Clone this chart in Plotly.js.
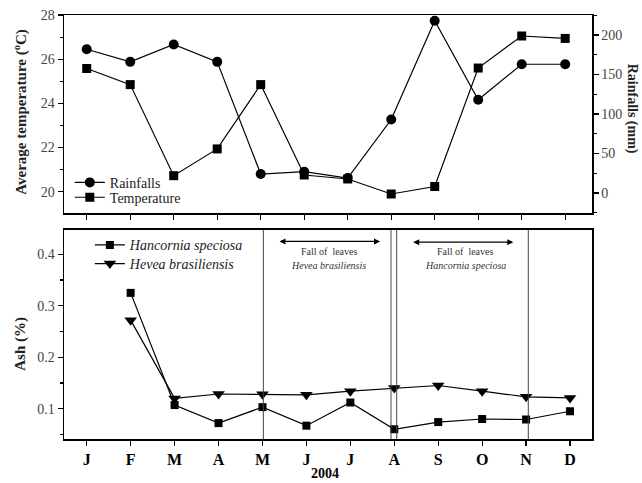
<!DOCTYPE html>
<html>
<head>
<meta charset="utf-8">
<script src="https://cdn.plot.ly/plotly-3.0.1.min.js"></script>
<style>html,body{margin:0;padding:0;background:#fff;}#chart{width:642px;height:483px;}</style>
</head>
<body>
<div id="chart"></div>
<script>
// ---- data ----
const months = [1,2,3,4,5,6,7,8,9,10,11,12];
const monthLabels = ['J','F','M','A','M','J','J','A','S','O','N','D'];
const rainfall = [182, 166, 188, 166, 24, 27, 19, 93, 218, 118, 163, 163];          // mm
const temperature = [25.58, 24.85, 20.73, 21.94, 24.85, 20.76, 20.58, 19.9, 20.24, 25.6, 27.05, 26.94]; // °C
const ashHancornia = [null, 0.325, 0.107, 0.072, 0.103, 0.067, 0.112, 0.060, 0.074, 0.080, 0.079, 0.095];
const ashHevea = [null, 0.272, 0.120, 0.1285, 0.128, 0.127, 0.134, 0.140, 0.145, 0.134, 0.123, 0.121];
const fallLines = [5.02, 7.925, 8.055, 11.05];

const FONT = 'Liberation Serif, Times New Roman, serif';

const traces = [
  {x: months, y: rainfall, name: 'Rainfalls', xaxis: 'x', yaxis: 'y2', legend: 'legend',
   mode: 'lines+markers', line: {color: '#000', width: 1.2},
   marker: {symbol: 'circle', size: 10, color: '#000'}},
  {x: months, y: temperature, name: 'Temperature', xaxis: 'x', yaxis: 'y', legend: 'legend2',
   mode: 'lines+markers', line: {color: '#000', width: 1.2},
   marker: {symbol: 'square', size: 9, color: '#000'}},
  {x: months, y: ashHancornia, name: '<i>Hancornia speciosa</i>', xaxis: 'x2', yaxis: 'y3', legend: 'legend3',
   mode: 'lines+markers', line: {color: '#000', width: 1.2}, connectgaps: false,
   marker: {symbol: 'square', size: 8, color: '#000'}},
  {x: months, y: ashHevea, name: '<i>Hevea brasiliensis</i>', xaxis: 'x2', yaxis: 'y3', legend: 'legend4',
   mode: 'lines+markers', line: {color: '#000', width: 1.2}, connectgaps: false,
   marker: {symbol: 'triangle-down', size: 11, color: '#000'}}
];

const axBase = {showline: true, linecolor: '#000', linewidth: 1.5, mirror: true,
  showgrid: false, zeroline: false, ticks: 'outside', ticklen: 5, tickwidth: 1.2, tickcolor: '#000',
  tickfont: {family: FONT, size: 14, color: '#444'}};

const shapes = fallLines.map(v => ({type: 'line', xref: 'x2', yref: 'y3 domain',
  x0: v, x1: v, y0: 0, y1: 1, line: {color: '#444', width: 1}}));

const annotations = [
  // arrows
  {xref: 'x2', yref: 'y3', axref: 'x2', ayref: 'y3', x: 7.675, y: 0.425, ax: 5.353, ay: 0.425,
   text: '', showarrow: true, arrowhead: 2, arrowside: 'end+start', arrowsize: 1, arrowwidth: 1.2, arrowcolor: '#000'},
  {xref: 'x2', yref: 'y3', axref: 'x2', ayref: 'y3', x: 10.709, y: 0.4235, ax: 8.396, ay: 0.4235,
   text: '', showarrow: true, arrowhead: 2, arrowside: 'end+start', arrowsize: 1, arrowwidth: 1.2, arrowcolor: '#000'},
  {xref: 'x2', yref: 'y3', x: 6.514, y: 0.4045, text: 'Fall of  leaves', showarrow: false,
   font: {family: FONT, size: 10, color: '#333'}},
  {xref: 'x2', yref: 'y3', x: 6.514, y: 0.378, text: '<i>Hevea brasiliensis</i>', showarrow: false,
   font: {family: FONT, size: 10, color: '#333'}},
  {xref: 'x2', yref: 'y3', x: 9.61, y: 0.4045, text: 'Fall of  leaves', showarrow: false,
   font: {family: FONT, size: 10, color: '#333'}},
  {xref: 'x2', yref: 'y3', x: 9.61, y: 0.378, text: '<i>Hancornia speciosa</i>', showarrow: false,
   font: {family: FONT, size: 10, color: '#333'}},
  // axis titles
  {xref: 'paper', yref: 'paper', x: -0.083, y: 0.77, xanchor: 'center', yanchor: 'middle', textangle: -90,
   text: '<b>Average temperature (<sup>o</sup>C)</b>', showarrow: false, font: {family: FONT, size: 15, color: '#222'}},
  {xref: 'paper', yref: 'paper', x: 1.075, y: 0.78, xanchor: 'center', yanchor: 'middle', textangle: 90,
   text: '<b>Rainfalls (mm)</b>', showarrow: false, font: {family: FONT, size: 14, color: '#222'}},
  {xref: 'paper', yref: 'paper', x: -0.083, y: 0.225, xanchor: 'center', yanchor: 'middle', textangle: -90,
   text: '<b>Ash (%)</b>', showarrow: false, font: {family: FONT, size: 15, color: '#222'}},
  {xref: 'paper', yref: 'paper', x: 0.494, y: -0.082, xanchor: 'center', yanchor: 'middle',
   text: '<b>2004</b>', showarrow: false, font: {family: FONT, size: 14, color: '#000'}}
];

const legBase = {xanchor: 'left', yanchor: 'top', bgcolor: 'rgba(0,0,0,0)',
  font: {family: FONT, size: 14, color: '#222'}, tracegroupgap: 0};

const layout = {
  width: 642, height: 483,
  margin: {l: 64, r: 50, t: 15, b: 44},
  paper_bgcolor: '#fff', plot_bgcolor: '#fff',
  font: {family: FONT, color: '#000'},
  showlegend: true,
  xaxis: Object.assign({}, axBase, {domain: [0, 1], anchor: 'y', range: [0.478, 12.616],
    tickvals: months, showticklabels: false}),
  yaxis: Object.assign({}, axBase, {domain: [0.533, 1], anchor: 'x', range: [19.04, 28],
    tickvals: [20, 22, 24, 26, 28], minor: {ticks: 'outside', dtick: 1, tick0: 19, ticklen: 3, tickcolor: '#000'}}),
  yaxis2: Object.assign({}, axBase, {overlaying: 'y', side: 'right', anchor: 'x', range: [-25.3, 225.3],
    tickvals: [0, 50, 100, 150, 200], mirror: false, minor: {ticks: 'outside', dtick: 25, tick0: 0, ticklen: 3, tickcolor: '#000'}}),
  xaxis2: Object.assign({}, axBase, {domain: [0, 1], anchor: 'y3', range: [0.483, 12.5],
    tickvals: months, ticktext: monthLabels,
    tickfont: {family: FONT, size: 16, color: '#000', weight: 'bold'}}),
  yaxis3: Object.assign({}, axBase, {domain: [0, 0.493], anchor: 'x2', range: [0.0411, 0.4472],
    tickvals: [0.1, 0.2, 0.3, 0.4], ticktext: ['0.1', '0.2', '0.3', '0.4'],
    minor: {ticks: 'outside', dtick: 0.05, tick0: 0.05, ticklen: 3, tickcolor: '#000'}}),
  legend: Object.assign({}, legBase, {x: 0.011, y: 0.642}),
  legend2: Object.assign({}, legBase, {x: 0.011, y: 0.607}),
  legend3: Object.assign({}, legBase, {x: 0.049, y: 0.4946}),
  legend4: Object.assign({}, legBase, {x: 0.049, y: 0.4505}),
  shapes: shapes,
  annotations: annotations
};

Plotly.newPlot('chart', traces, layout, {displayModeBar: false, staticPlot: true});
</script>
</body>
</html>
